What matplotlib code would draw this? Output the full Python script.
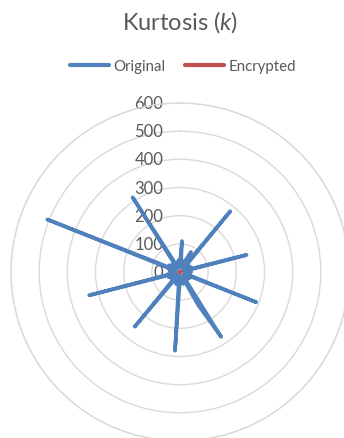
import numpy as np
import matplotlib
matplotlib.use("Agg")
import matplotlib.pyplot as plt
from matplotlib.lines import Line2D

# 100 categories, radar chart
original = [
    35, 110, 30, 22, 40, 18, 28, 45, 81, 25,
    20, 280, 32, 15, 38, 26, 12, 30, 42, 20,
    28, 244, 18, 35, 24, 40, 16, 30, 22, 36,
    25, 291, 20, 42, 30, 14, 38, 26, 32, 18,
    30, 273, 134, 25, 36, 20, 44, 28, 15, 33,
    22, 280, 38, 18, 30, 45, 24, 12, 35, 28,
    40, 252, 26, 32, 16, 38, 22, 30, 44, 20,
    18, 333, 28, 40, 24, 14, 36, 30, 20, 42,
    32, 507, 22, 30, 45, 18, 26, 38, 15, 34,
    24, 314, 40, 20, 30, 36, 16, 28, 42, 25,
]
encrypted = [1.80] * len(original)
rticks = [0, 100, 200, 300, 400, 500, 600]

plt.rcParams['font.family'] = ['Lato', 'DejaVu Sans']
plt.rcParams['mathtext.fontset'] = 'custom'
plt.rcParams['mathtext.it'] = 'Lato:italic'

blue = "#4F81BD"
red = "#C0504D"
grey = "#595959"

fig = plt.figure(figsize=(3.44, 4.39), dpi=100)
W, H = 344, 439
cx, cy, R = 180, 273, 169
ax = fig.add_axes([(cx - R) / W, (H - cy - R) / H, 2 * R / W, 2 * R / H], projection='polar')
ax.set_theta_zero_location('N')
ax.set_theta_direction(-1)

n = len(original)
theta = np.linspace(0, 2 * np.pi, n, endpoint=False)
th = np.append(theta, theta[0])

ax.plot(th, original + original[:1], color=blue, lw=2.6, solid_joinstyle='round',
        solid_capstyle='round', zorder=3)
ax.plot(th, encrypted + encrypted[:1], color=red, lw=2.6, solid_joinstyle='round',
        solid_capstyle='round', zorder=4)

ax.set_ylim(0, 600)
ax.set_yticks(rticks)
ax.set_yticklabels([])
ax.set_xticks([])
ax.grid(True, color="#D9D9D9", lw=1.0)
ax.spines['polar'].set_color("#D9D9D9")
ax.spines['polar'].set_linewidth(1.0)
ax.patch.set_alpha(0)

for v in rticks:
    ax.annotate(str(v), xy=(0, v), xytext=(-12, 0), textcoords='offset points',
                ha='right', va='center', fontsize=12, color=grey, zorder=2)

fig.text(cx / W, 1 - 22 / H, r"Kurtosis ($k$)", ha='center', va='center',
         fontsize=17, color=grey)

handles = [Line2D([], [], color=blue, lw=3, solid_capstyle='round'),
           Line2D([], [], color=red, lw=3, solid_capstyle='round')]
fig.legend(handles, ["Original", "Encrypted"], loc='center', ncol=2,
           bbox_to_anchor=(183 / W, 1 - 67 / H), frameon=False, fontsize=10.8,
           handlelength=2.6, handletextpad=0.3, columnspacing=1.3,
           labelcolor=grey)

fig.savefig("out.png", dpi=100)
